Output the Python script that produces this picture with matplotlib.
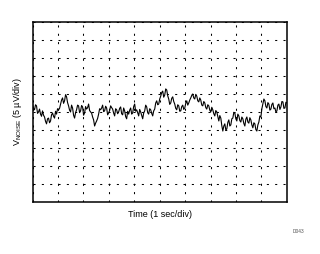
import numpy as np
import matplotlib
matplotlib.use("Agg")
import matplotlib.pyplot as plt

plt.rcParams['font.family'] = ['Liberation Sans', 'DejaVu Sans']

# Noise trace in microvolts (5 uV/div), sampled evenly over 10 s
noise_uv = [
    2.2, 1.0, 0.6, 2.0, 1.7, -0.4, 0.0, 0.8, -0.6, -1.2, 0.3, -0.9, -1.4, -2.6, -3.3, -1.9, -1.7, -3.0, -2.5, -0.8,
    -0.3, -1.2, -1.7, 0.2, -0.6, 0.9, 0.6, 1.0, 2.2, 3.3, 3.9, 2.4, 3.1, 4.8, 4.2, 2.6, 1.7, 0.5, 0.0, 1.9,
    1.1, -0.9, -1.7, -0.2, 0.6, 1.9, 1.7, -0.2, 0.3, 1.8, 1.4, -0.9, -0.3, 1.5, 0.8, 1.2, 2.2, 0.4, 0.0, -0.3,
    -1.4, -2.2, -3.9, -3.1, -2.5, -1.8, -0.6, 0.9, 0.6, 1.1, 1.9, 0.1, 0.3, 1.6, 1.1, -0.8, -0.3, 0.4, 1.7, 1.2,
    0.8, -0.3, -1.1, 0.9, 0.6, -0.5, 0.0, 1.0, 1.4, -0.5, -0.8, 1.1, 0.3, -1.3, -1.9, 0.2, -0.6, 0.5, 1.1, -0.6,
    -0.3, 1.5, 2.2, 0.2, 0.6, -0.2, -1.1, 0.7, 0.0, -0.9, -1.9, -0.3, 0.3, 1.9, 1.4, -0.2, -0.6, 0.9, 0.6, -0.4,
    -1.1, 0.3, 0.8, 2.5, 3.1, 2.0, 2.2, 3.6, 4.4, 5.4, 5.8, 4.1, 4.7, 6.4, 6.1, 4.5, 3.6, 2.1, 2.5, 3.8,
    4.2, 2.9, 2.2, 1.0, 0.6, 2.0, 1.7, 0.2, 0.3, 1.5, 1.9, 0.7, 1.1, 2.4, 3.1, 1.9, 2.5, 3.3, 3.9, 4.6,
    5.0, 3.9, 3.6, 4.9, 4.4, 3.1, 2.8, 3.9, 3.3, 1.9, 1.7, 2.9, 2.5, 1.2, 0.8, 2.0, 1.7, 0.5, 0.0, 1.3,
    0.6, -0.5, -1.1, 0.4, 0.0, -1.3, -2.5, -1.0, -1.7, -3.8, -5.3, -3.9, -3.3, -5.0, -4.7, -2.9, -2.2, -3.9, -3.6, -1.9,
    -1.7, -0.1, -0.3, -1.9, -2.5, -0.6, -1.1, -2.4, -2.8, -1.4, -1.9, -3.2, -3.9, -2.0, -1.4, -2.8, -3.1, -1.6, -2.2, -3.6,
    -4.4, -3.0, -3.3, -4.9, -5.3, -3.6, -2.8, -1.1, -1.4, 0.9, 2.2, 3.6, 3.1, 1.5, 1.1, 2.6, 2.2, 0.5, 0.8, 2.1,
    2.5, 0.9, 1.1, 0.0, 0.3, 1.9, 2.2, 0.7, 1.4, 2.9, 2.8, 1.0, 1.1, 2.7, 2.5,
]
time_s = np.linspace(0, 10, len(noise_uv))

x_label = "Time (1 sec/div)"
y_label = r"V$_{\mathregular{NOISE}}$ (5 µV/div)"
footnote = "D043"

fig = plt.figure(figsize=(3.2, 2.54), dpi=100)
ax = fig.add_axes([0.1016, 0.2047, 0.795, 0.709])
ax.plot(time_s, noise_uv, color='black', lw=0.8)
ax.set_xlim(0, 10)
ax.set_ylim(-25, 25)
ax.set_xticks(np.arange(0, 11, 1))
ax.set_yticks(np.arange(-25, 26, 5))
ax.tick_params(length=0, labelbottom=False, labelleft=False)
ax.grid(True, color='black', lw=0.75, linestyle=(0, (2, 6)))
for s in ax.spines.values():
    s.set_linewidth(1.1)
ax.set_xlabel(x_label, fontsize=6.5, labelpad=6)
ax.set_ylabel(y_label, fontsize=6.5, labelpad=6)
fig.text(0.952, 0.09, footnote, fontsize=3.5, color='#555555', ha='right', va='center')
fig.savefig("out.png", dpi=100)
